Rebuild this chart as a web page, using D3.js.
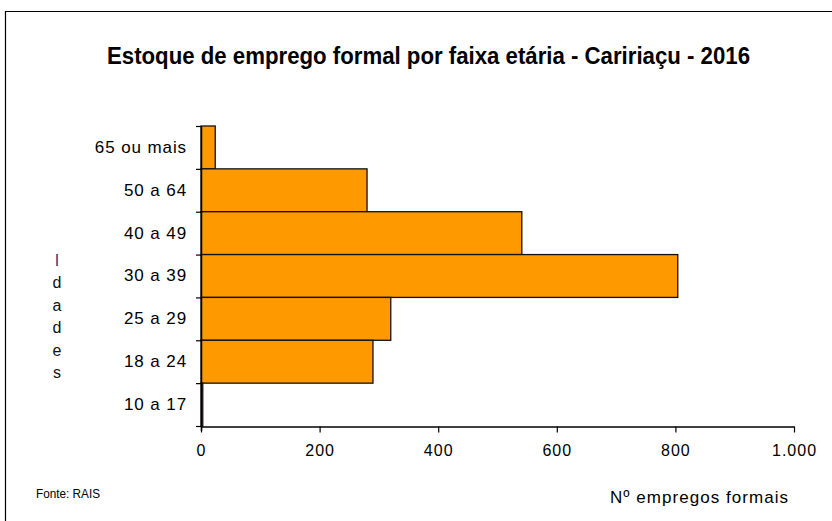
<!DOCTYPE html>
<html><head><meta charset="utf-8">
<script src="https://cdn.jsdelivr.net/npm/d3@7"></script>
<style>body{margin:0;background:#fff}svg{display:block}</style>
</head><body>
<svg id="c" width="832" height="521"></svg>
<script>
const categories = ["65 ou mais","50 a 64","40 a 49","30 a 39","25 a 29","18 a 24","10 a 17"];
const values = [24, 280, 541, 804, 320, 290, 3];
const xTicks = [0, 200, 400, 600, 800, 1000];
const xTickLabels = ["0","200","400","600","800","1.000"];
const yTitleLetters = ["I","d","a","d","e","s"];

(function(){
const svg = d3.select("#c");
const sans = "'Liberation Sans',Arial,sans-serif";

// frame
svg.append("path").attr("d","M5.5,521 V11.5 H832").attr("fill","none").attr("stroke","#000").attr("stroke-width",1.2);

const pl = 201, pr = 794, pt = 126, pb = 426;
const x = d3.scaleLinear().domain([0,1000]).range([pl,pr]);
const y = d3.scaleBand().domain(categories).range([pt,pb]).padding(0);

svg.append("text").attr("x",107).attr("y",64)
  .attr("font-family",sans).attr("font-weight","bold").attr("font-size",23).attr("fill","#000")
  .attr("textLength",643).attr("lengthAdjust","spacingAndGlyphs")
  .text("Estoque  de emprego formal por faixa etária - Caririaçu - 2016");

// bars
svg.append("g").selectAll("rect").data(categories).join("rect")
  .attr("x", x(0)).attr("y", d => y(d))
  .attr("width", (d,i) => x(values[i]) - x(0)).attr("height", y.bandwidth())
  .attr("fill","#ff9900").attr("stroke","#111").attr("stroke-width",1.3);

// y axis
const ya = svg.append("g").attr("transform",`translate(${pl},0)`)
  .call(d3.axisLeft(y).tickSize(0).tickPadding(14));
ya.select(".domain").remove();
ya.selectAll("text").attr("font-family",sans).attr("font-size",17).attr("letter-spacing",0.9).attr("fill","#000");
const bounds = categories.map(c => y(c)).concat([pb]);
svg.append("g").selectAll("line").data(bounds).join("line")
  .attr("x1",pl-5).attr("x2",pl).attr("y1",d=>d+0.5).attr("y2",d=>d+0.5)
  .attr("stroke","#000").attr("stroke-width",1.2);
svg.append("line").attr("x1",pl+0.5).attr("x2",pl+0.5).attr("y1",pt).attr("y2",pb+5)
  .attr("stroke","#000").attr("stroke-width",1.5);

// x axis
const xa = svg.append("g").attr("transform",`translate(0,${pb+0.5})`)
  .call(d3.axisBottom(x).tickValues(xTicks).tickFormat((d,i)=>xTickLabels[i]).tickSize(6).tickSizeOuter(0).tickPadding(12));
xa.select(".domain").attr("stroke-width",1.3);
xa.selectAll(".tick line").attr("stroke-width",1.2);
xa.selectAll("text").attr("font-family",sans).attr("font-size",16).attr("letter-spacing",1).attr("fill","#000");

// y title stacked letters
svg.append("g").selectAll("text").data(yTitleLetters).join("text")
  .attr("x",57).attr("y",(d,i)=>266+i*22.4).attr("text-anchor","middle")
  .attr("font-family",sans).attr("font-size",16).attr("fill",(d,i)=>i===0?"#4b2c7a":"#111")
  .text(d=>d);

svg.append("text").attr("x",36).attr("y",498).attr("font-family",sans).attr("font-size",13)
  .attr("textLength",64).attr("lengthAdjust","spacingAndGlyphs").attr("fill","#000").text("Fonte:  RAIS");
svg.append("text").attr("x",610).attr("y",503).attr("font-family",sans).attr("font-size",17)
  .attr("textLength",178).attr("lengthAdjust","spacing").attr("fill","#000").text("Nº empregos formais");
})();
</script>
</body></html>
